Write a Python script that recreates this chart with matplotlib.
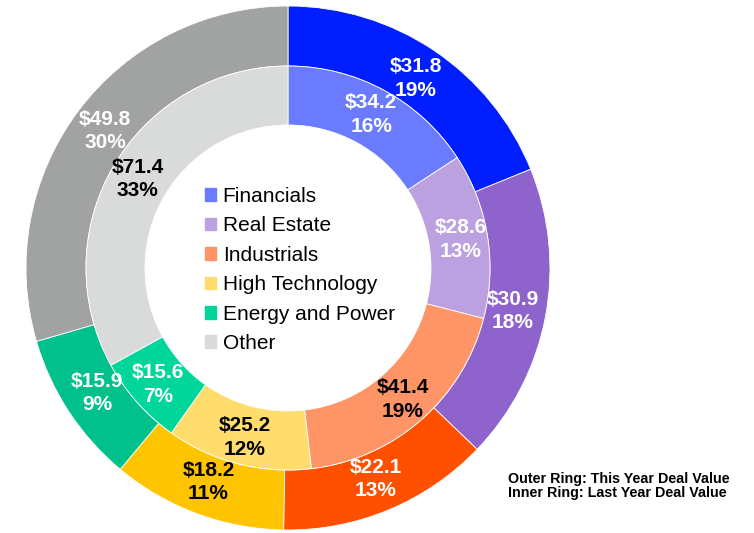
import matplotlib
matplotlib.use("Agg")
import matplotlib.pyplot as plt
import numpy as np

plt.rcParams['font.family'] = ['Liberation Sans', 'DejaVu Sans']

categories = ["Financials", "Real Estate", "Industrials", "High Technology", "Energy and Power", "Other"]
this_year = [31.8, 30.9, 22.1, 18.2, 15.9, 49.8]
last_year = [34.2, 28.6, 41.4, 25.2, 15.6, 71.4]

outer_colors = ["#001EFF", "#8E64CC", "#FF5000", "#FFC400", "#00C08B", "#A0A3A2"]
inner_colors = ["#6B7BFF", "#BBA1E0", "#FF9466", "#FFDC6B", "#00D59A", "#D9DADA"]
outer_text = ["white", "white", "white", "black", "white", "white"]
inner_text = ["white", "white", "black", "black", "white", "black"]

W, H = 754, 533
fig = plt.figure(figsize=(W / 100, H / 100), dpi=100)
cx, cy, R = 288, 268, 262
ax = fig.add_axes([(cx - R) / W, (H - cy - R) / H, 2 * R / W, 2 * R / H])

r_out = 1.0
r_mid = 202 / 262
r_in = 143 / 262

w_out, _ = ax.pie(this_year, radius=r_out, colors=outer_colors, startangle=90,
                  counterclock=False,
                  wedgeprops=dict(width=r_out - r_mid, edgecolor="white", linewidth=0.6))
w_in, _ = ax.pie(last_year, radius=r_mid, colors=inner_colors, startangle=90,
                 counterclock=False,
                 wedgeprops=dict(width=r_mid - r_in, edgecolor="white", linewidth=0.6))
ax.set_xlim(-1, 1)
ax.set_ylim(-1, 1)
ax.set_aspect("equal")
ax.axis("off")


def label_ring(wedges, values, tcolors, rad):
    total = sum(values)
    for w, v, c in zip(wedges, values, tcolors):
        ang = np.deg2rad((w.theta1 + w.theta2) / 2)
        pct = round(v / total * 100)
        ax.text(rad * np.cos(ang), rad * np.sin(ang), f"${v:.1f}\n{pct}%",
                ha="center", va="center", color=c, fontsize=15, fontweight="bold",
                linespacing=1.3)


label_ring(w_out, this_year, outer_text, 0.872)
label_ring(w_in, last_year, inner_text, 0.667)

handles = [plt.Rectangle((0, 0), 1, 1, color=c) for c in inner_colors]
fig.legend(handles, categories, loc="upper left",
           bbox_to_anchor=(205 / W, 1 - 187 / H), frameon=False, fontsize=15,
           handlelength=0.55, handleheight=0.55, handletextpad=0.3,
           labelspacing=0.5, borderpad=0, borderaxespad=0)

fig.text(508 / W, 1 - 486 / H, "Outer Ring: This Year Deal Value\nInner Ring: Last Year Deal Value",
         ha="left", va="center", fontsize=10.3, fontweight="bold", linespacing=1.05)

fig.savefig("out.png", dpi=100)
